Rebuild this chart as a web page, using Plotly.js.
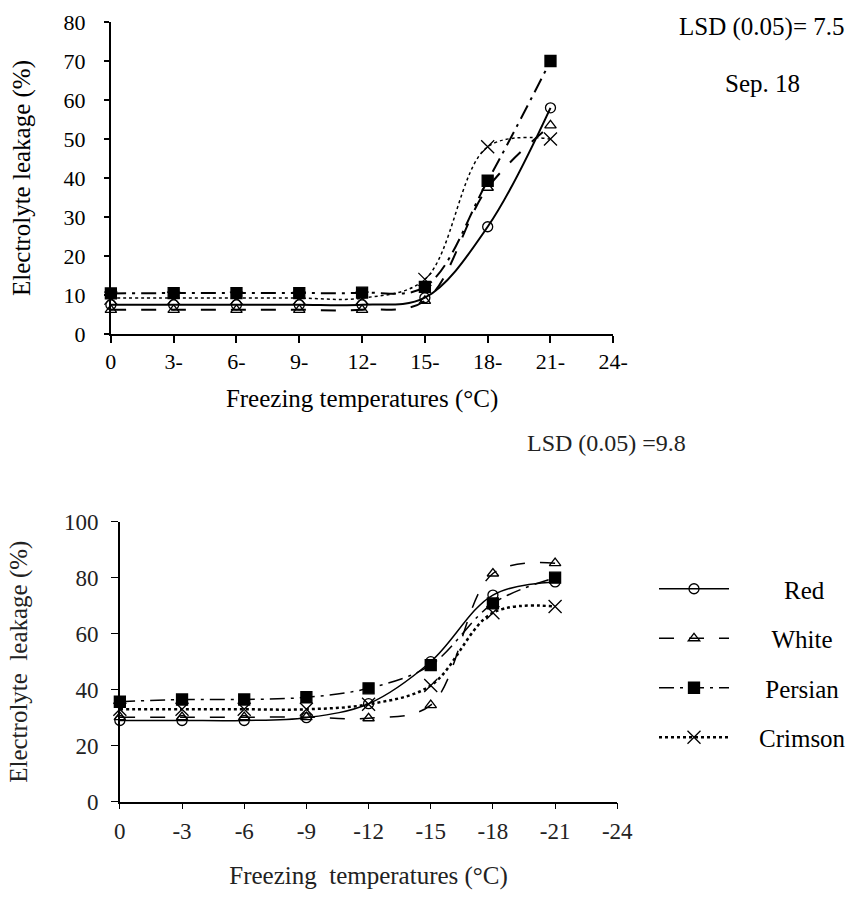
<!DOCTYPE html>
<html>
<head>
<meta charset="utf-8">
<script src="https://cdn.plot.ly/plotly-3.0.1.min.js"></script>
<style>
svg text, svg tspan { font-family: "Liberation Serif", "Times New Roman", serif !important; }
</style>
</head>
<body style="margin:0;background:#fff">
<div id="chart" style="width:851px;height:898px"></div>
<script>
// Temperatures (°C)
const temps = [0, -3, -6, -9, -12, -15, -18, -21];
const tickVals = [0, -3, -6, -9, -12, -15, -18, -21, -24];
const tickTextTop = ["0", "3-", "6-", "9-", "12-", "15-", "18-", "21-", "24-"];
const tickTextBottom = ["0", "-3", "-6", "-9", "-12", "-15", "-18", "-21", "-24"];
const seriesNames = ["Red", "White", "Persian", "Crimson"];

// Top chart (Sep. 18)
const redTop = [7.5, 7.5, 7.5, 7.5, 7.5, 9.3, 27.5, 58];
const whiteTop = [6.2, 6.2, 6.2, 6.2, 6.2, 8.5, 37.5, 53.5];
const persianTop = [10.4, 10.5, 10.5, 10.5, 10.6, 12.1, 39.3, 70];
const crimsonTop = [9.2, 9.2, 9.2, 9.2, 9.2, 14, 48, 50];

// Bottom chart
const redBottom = [29, 29, 29, 30, 35, 50, 73.8, 78.5];
const whiteBottom = [30.2, 30.2, 30.2, 30.2, 29.8, 34.5, 81.5, 85.2];
const persianBottom = [35.7, 36.5, 36.5, 37.3, 40.5, 48.8, 70.8, 80];
const crimsonBottom = [33, 33, 33, 33, 34.8, 41.5, 67.5, 69.7];

const FONT = "Liberation Serif";

// legend labels centred in the label column (leading non-breaking spaces)
const legendPad = [8, 6, 5, 4];
const legendNames = seriesNames.map((n, i) => "\u00a0".repeat(legendPad[i]) + n);

const styles = [
  {dash: "solid", symbol: "circle-open", size: 10},
  {dash: "longdash", symbol: "triangle-up-open", size: 10},
  {dash: "longdashdot", symbol: "square", size: 11},
  {dash: "dot", symbol: "x-thin-open", size: 13}
];

function mk(y, i, xa, ya, w, legend) {
  const s = styles[i];
  return {
    x: temps, y: y, xaxis: xa, yaxis: ya,
    type: "scatter", mode: "lines+markers",
    name: legendNames[i], showlegend: legend, legendgroup: seriesNames[i],
    cliponaxis: false,
    line: {shape: "spline", smoothing: 1, color: "#000", width: w, dash: s.dash},
    marker: {symbol: s.symbol, size: s.size, color: "#000", line: {color: "#000", width: 1.3}}
  };
}

const data = [
  mk(redTop, 0, "x", "y", 2, false),
  mk(whiteTop, 1, "x", "y", 2, false),
  mk(persianTop, 2, "x", "y", 2, false),
  mk(crimsonTop, 3, "x", "y", 1.5, false),
  mk(redBottom, 0, "x2", "y2", 1.5, true),
  mk(whiteBottom, 1, "x2", "y2", 1.5, true),
  mk(persianBottom, 2, "x2", "y2", 1.5, true),
  mk(crimsonBottom, 3, "x2", "y2", 2.5, true)
];

const W = 851, H = 898;
function fnt(size, color) { return {family: FONT, size: size, color: color || "#000"}; }
const axBase = {
  showgrid: false, zeroline: false, showline: true, linecolor: "#000",
  ticks: "outside", tickcolor: "#000", fixedrange: true
};

const layout = {
  width: W, height: H,
  margin: {l: 0, r: 0, t: 0, b: 0},
  paper_bgcolor: "#fff", plot_bgcolor: "#fff",
  font: fnt(22),
  showlegend: true,
  legend: {
    x: 655 / W, xanchor: "left", y: (H - 566) / H, yanchor: "top",
    font: fnt(25),
    tracegroupgap: 14, itemwidth: 70, bgcolor: "rgba(0,0,0,0)"
  },
  xaxis: Object.assign({}, axBase, {
    domain: [111 / W, 614 / W], anchor: "y", range: [0, -24],
    tickvals: tickVals, ticktext: tickTextTop, ticklen: 7, tickwidth: 2, linewidth: 2,
    tickfont: fnt(22), ticklabelstandoff: 0,
    title: {text: "Freezing temperatures (°C)", font: fnt(25), standoff: 16}
  }),
  yaxis: Object.assign({}, axBase, {
    domain: [(H - 334) / H, (H - 22) / H], anchor: "x", range: [0, 80], dtick: 10,
    ticklen: 5, tickwidth: 2, linewidth: 2,
    tickfont: fnt(22), ticklabelstandoff: 14,
    title: {text: "Electrolyte leakage (%)", font: fnt(25), standoff: 26}
  }),
  xaxis2: Object.assign({}, axBase, {
    domain: [120 / W, 618 / W], anchor: "y2", range: [0, -24],
    tickvals: tickVals, ticktext: tickTextBottom, ticklen: 6, tickwidth: 1.3, linewidth: 1.5,
    tickfont: fnt(23, "#222"), ticklabelstandoff: 2,
    title: {text: "Freezing  temperatures (°C)", font: fnt(25, "#222"), standoff: 23}
  }),
  yaxis2: Object.assign({}, axBase, {
    domain: [(H - 801.7) / H, (H - 521.7) / H], anchor: "x2", range: [0, 100], dtick: 20,
    ticklen: 7, tickwidth: 1.3, linewidth: 1.5,
    tickfont: fnt(23, "#222"), ticklabelstandoff: 8,
    title: {text: "Electrolyte  leakage (%)", font: fnt(25, "#222"), standoff: 29}
  }),
  annotations: [
    {text: "LSD (0.05)= 7.5", xref: "paper", yref: "paper", x: 762 / W, y: (H - 27) / H,
     xanchor: "center", yanchor: "middle", showarrow: false, font: fnt(25)},
    {text: "Sep. 18", xref: "paper", yref: "paper", x: 763 / W, y: (H - 83) / H,
     xanchor: "center", yanchor: "middle", showarrow: false, font: fnt(25)},
    {text: "LSD (0.05) =9.8", xref: "paper", yref: "paper", x: 607 / W, y: (H - 443) / H,
     xanchor: "center", yanchor: "middle", showarrow: false, font: fnt(24, "#222")}
  ]
};

Plotly.newPlot("chart", data, layout, {displayModeBar: false});
</script>
</body>
</html>
